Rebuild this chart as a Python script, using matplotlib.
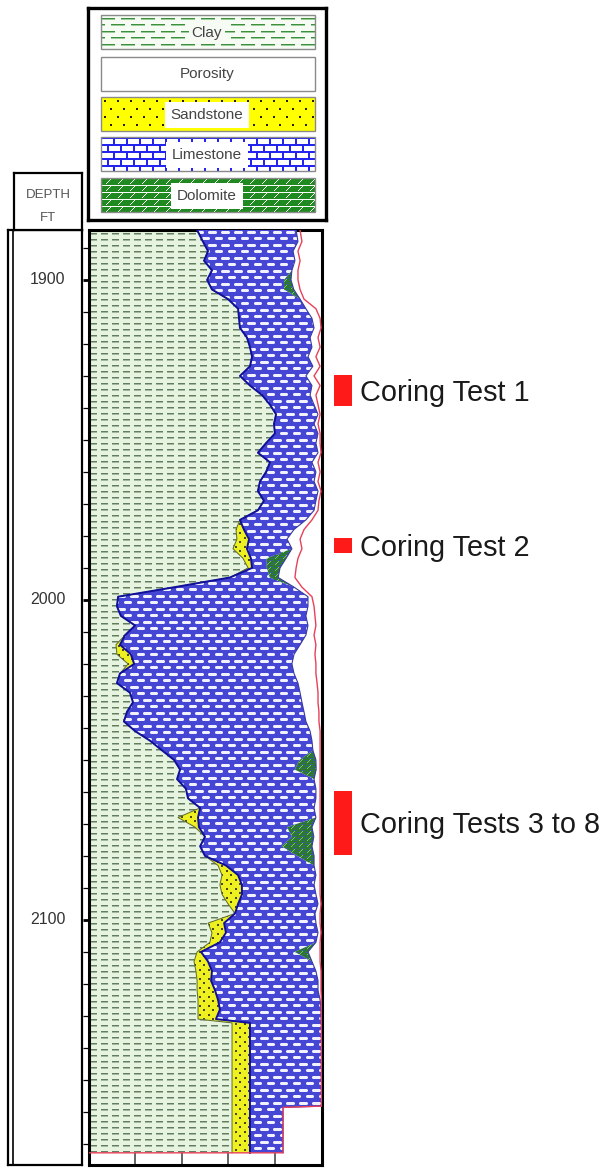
import numpy as np
import matplotlib
matplotlib.use('Agg')
import matplotlib.pyplot as plt
from matplotlib.patches import Polygon, Rectangle

plt.rcParams['font.family'] = ['Liberation Sans', 'DejaVu Sans']

# depth (ft) samples down the log
depth = [1884.4, 1888, 1891, 1894, 1897, 1900, 1903, 1906, 1909, 1912,
         1915, 1918, 1921, 1924, 1927, 1930, 1933, 1936, 1939, 1942,
         1945, 1948, 1951, 1954, 1957, 1960, 1963, 1966, 1969, 1972,
         1975, 1978, 1981, 1984, 1987, 1990, 1993, 1996, 1999, 2002,
         2005, 2008, 2011, 2014, 2017, 2020, 2023, 2026, 2029, 2032,
         2035, 2038, 2041, 2044, 2047, 2050, 2053, 2056, 2059, 2062,
         2065, 2068, 2071, 2074, 2077, 2080, 2083, 2086, 2089, 2092,
         2095, 2098, 2101, 2104, 2107, 2110, 2113, 2116, 2119, 2122,
         2125, 2128, 2131, 2132.2, 2140, 2150, 2158.2, 2158.6, 2166, 2172.8]

# track position in % of the track width
clay_edge = [46.6, 49.1, 51.3, 49.6, 53.0, 50.9, 53.0, 59.9, 64.2, 64.6,
             65.0, 68.0, 69.3, 70.2, 69.3, 65.0, 69.3, 74.5, 77.9, 80.5,
             79.6, 80.0, 76.2, 72.7, 77.9, 76.2, 73.6, 72.7, 75.3, 72.7,
             65.0, 63.3, 63.7, 62.0, 66.3, 68.5, 60.7, 37.1, 12.7, 12.2,
             13.9, 20.0, 15.7, 11.8, 12.2, 17.0, 13.5, 12.2, 17.8, 19.1,
             16.5, 15.2, 20.0, 26.4, 31.5, 36.7, 39.3, 38.0, 41.8, 42.7,
             47.9, 38.4, 45.7, 50.0, 47.9, 50.0, 55.6, 57.3, 56.4, 57.3,
             59.9, 62.9, 51.3, 53.0, 52.1, 46.6, 45.3, 46.1, 46.6, 46.6,
             47.0, 47.0, 47.0, 61.6, 61.6, 61.6, 61.6, 61.6, 61.6, 61.6]

sand_width = [0, 0, 0, 0, 0, 0, 0, 0, 0, 0,
              0, 0, 0, 0, 0, 0, 0, 0, 0, 0,
              0, 0, 0, 0, 0, 0, 0, 0, 0, 0,
              0, 3.4, 5.2, 6.0, 3.4, 1.7, 0, 0, 0, 0,
              0, 0, 0, 1.7, 6.0, 2.6, 0, 0, 0, 0,
              0, 0, 0, 0, 0, 0, 0, 0, 0, 0,
              0, 8.6, 1.7, 0, 0, 0, 3.4, 6.9, 9.4, 8.6,
              4.3, 0, 6.9, 6.0, 4.3, 1.7, 6.0, 6.9, 6.0, 7.7,
              8.6, 9.4, 7.7, 7.7, 7.7, 7.7, 7.7, 7.7, 7.7, 7.7]

lime_edge = [89.1, 89.9, 87.8, 88.6, 87.3, 83.9, 83.9, 90.8, 93.3, 95.9,
             96.8, 95.1, 95.9, 94.2, 96.3, 93.3, 95.9, 95.1, 96.8, 98.5,
             96.8, 98.5, 97.6, 98.5, 95.9, 97.6, 96.8, 98.5, 97.6, 96.8,
             93.3, 88.2, 85.2, 87.3, 76.5, 76.5, 77.8, 88.2, 94.2, 94.2,
             93.3, 94.2, 93.3, 90.8, 88.2, 87.3, 88.2, 89.9, 90.8, 91.6,
             92.5, 93.3, 95.1, 95.9, 96.3, 90.6, 88.5, 96.8, 97.6, 97.6,
             96.8, 97.6, 85.2, 87.3, 82.9, 89.5, 96.8, 97.6, 96.8, 97.6,
             98.5, 97.2, 97.6, 98.5, 97.6, 88.5, 95.9, 97.6, 98.5, 98.5,
             99.4, 99.8, 99.8, 100, 100, 100, 100, 83.5, 83.5, 83.5]

dolo_width = [0, 0, 0, 0, 0, 3.0, 4.2, 0, 0, 0,
              0, 0, 0, 0, 0, 0, 0, 0, 0, 0,
              0, 0, 0, 0, 0, 0, 0, 0, 0, 0,
              0, 0, 0, 0, 8.3, 5.7, 3.6, 0, 0, 0,
              0, 0, 0, 0, 0, 0, 0, 0, 0, 0,
              0, 0, 0, 0, 0, 7.0, 9.2, 0, 0, 0,
              0, 0, 10.7, 9.4, 13.0, 7.3, 0, 0, 0, 0,
              0, 0, 0, 0, 0, 5.7, 0, 0, 0, 0,
              0, 0, 0, 0, 0, 0, 0, 0, 0, 0]

poro_edge = [90.8, 91.6, 89.9, 90.8, 89.9, 89.9, 90.8, 92.5, 97.6, 99.4,
             99.8, 98.5, 99.4, 97.6, 99.4, 96.8, 99.4, 97.6, 98.5, 99.4,
             98.5, 99.4, 99.4, 99.8, 98.5, 99.4, 98.5, 99.8, 98.9, 98.5,
             95.9, 92.5, 90.8, 91.6, 89.9, 89.1, 88.6, 91.6, 95.9, 96.8,
             97.2, 97.6, 96.8, 97.6, 97.2, 97.6, 97.6, 98.1, 98.5, 98.5,
             98.9, 98.9, 99.4, 99.4, 99.4, 99.4, 99.4, 99.4, 99.4, 99.4,
             99.4, 99.4, 99.4, 99.4, 99.4, 99.4, 99.4, 99.4, 99.4, 99.4,
             99.8, 99.4, 99.4, 99.8, 99.4, 99.4, 99.4, 99.8, 99.8, 99.8,
             100, 100, 100, 100, 100, 100, 100, 83.5, 83.5, 83.5]

depth_labels = [1900, 2000, 2100]
legend_names = ['Clay', 'Porosity', 'Sandstone', 'Limestone', 'Dolomite']
core_top = [1929.7, 1980.6, 2059.7]
core_bottom = [1939.4, 1985.3, 2079.7]
core_labels = ['Coring Test 1', 'Coring Test 2', 'Coring Tests 3 to 8']

W, H = 610, 1169
DEPTH_TOP, DEPTH_BOTTOM = 1884.4, 2176.6


def hexrgb(h):
    return [int(h[i:i + 2], 16) for i in (1, 3, 5)]


def make_tile(rows, colors):
    return np.array([[hexrgb(colors[c]) for c in r] for r in rows], dtype=np.uint8)


def texture(tile, h, w):
    reps = (h // tile.shape[0] + 1, w // tile.shape[1] + 1, 1)
    return np.tile(tile, reps)[:h, :w]


def px_axes(fig, x0, y0, x1, y1):
    return fig.add_axes([x0 / W, 1 - y1 / H, (x1 - x0) / W, (y1 - y0) / H])


# patterns used inside the log track
clay_tile = make_tile([
    "...........",
    "...........",
    "...........",
    ".#######...",
    ".+++++++...",
    "...........",
], {'.': '#e6f3df', '#': '#637d60', '+': '#a3b89d'})

lime_tile = make_tile([
    "bbbbbbbbbbbbb",
    "bblwwwwwwwlbb",
    "bbwwwwwwwwwbb",
    "bblwwwwwwwlbb",
    "bbbbbbbbbbbbb",
    "bbbbbbbbbbbbb",
    "bbbbbbbbbbbbb",
    "wwwlbbbbblwww",
    "wwwwbbbbbwwww",
    "wwwlbbbbblwww",
    "bbbbbbbbbbbbb",
    "bbbbbbbbbbbbb",
    "bbbbbbbbbbbbb",
], {'b': '#4646d4', 'w': '#f0f0ff', 'l': '#a0a0ec'})

sand_tile = make_tile([
    "yyyyyyyyy",
    "yykkyyyyy",
    "yykkyyyyy",
    "yyyyyyyyy",
    "yyyyyyyyy",
    "yyyyyykky",
    "yyyyyykky",
    "yyyyyyyyy",
    "yyyyyyyyy",
], {'y': '#eef020', 'k': '#4a4a18'})

dolo_tile = make_tile([
    "ggggbbbb",
    "ggggglgg",
    "bbbglggg",
    "ggglgggg",
    "gglgggbb",
    "gggggggg",
], {'g': '#2a7a2a', 'l': '#7fbf7f', 'b': '#3a5aa0'})

# patterns used in the legend swatches
clay_leg = make_tile([
    "....................",
    "....................",
    "....................",
    "##############......",
    "++++++++++++++......",
    "....................",
    "....................",
    "....................",
    "....................",
    "####......##########",
    "++++......++++++++++",
    "....................",
    "....................",
], {'.': '#f6fbf4', '#': '#3c8f3c', '+': '#9ccc9c'})

sand_leg = make_tile([
    "yyyyyyyyyyyyy",
    "yyyyyyyyyyyyy",
    "yyyyyyyyyyyyy",
    "yyykkyyyyyyyy",
    "yyykkyyyyyyyy",
    "yyyyyyyyyyyyy",
    "yyyyyyyyyyyyy",
    "yyyyyyyyyyyyy",
    "yyyyyyyyyyyyy",
    "yyyyyyyyyyyyy",
    "yyyyyyyyyyyyy",
    "yyyyyyyyykkyy",
    "yyyyyyyyykkyy",
    "yyyyyyyyyyyyy",
    "yyyyyyyyyyyyy",
    "yyyyyyyyyyyyy",
], {'y': '#ffff00', 'k': '#202010'})

lime_leg = make_tile([
    "bbbbbbbbbbbbb",
    "bbbbbbbbbbbbb",
    "bwwwwwwwwwwwb",
    "bwwwwwwwwwwwb",
    "bwwwwwwwwwwwb",
    "bwwwwwwwwwwwb",
    "bwwwwwwwwwwwb",
    "bbbbbbbbbbbbb",
    "bbbbbbbbbbbbb",
    "wwwwwwbbwwwww",
    "wwwwwwbbwwwww",
    "wwwwwwbbwwwww",
    "wwwwwwbbwwwww",
    "wwwwwwbbwwwww",
], {'b': '#2424f0', 'w': '#ffffff'})

dolo_leg = make_tile([
    "wwwwwwwwwwww",
    "gggggggggwgg",
    "ggggggggwggg",
    "gggggggwgggg",
    "ggggggwggggg",
    "gggggwgggggg",
    "gggggggggggg",
], {'g': '#1f8a1f', 'w': '#ffffff'})

fig = plt.figure(figsize=(W / 100, H / 100), dpi=100)
fig.patch.set_facecolor('white')

# ---- main log track
ax = px_axes(fig, 88.5, 230, 321.5, 1165)
d = np.array(depth)
clay = np.array(clay_edge)
sand = clay + np.array(sand_width)
lime = np.array(lime_edge)
dolo = lime + np.array(dolo_width)
poro = np.array(poro_edge)

for gx in [20, 40, 60, 80]:
    ax.axvline(gx, color='#3a3a3a', lw=1.1, zorder=0.5)

ext = (0, 100, DEPTH_BOTTOM, DEPTH_TOP)
hpx, wpx = 935, 233


def textured_band(left, right, tile, z):
    verts = np.concatenate([np.column_stack([left, d]),
                            np.column_stack([right, d])[::-1]])
    patch = Polygon(verts, closed=True, fc='none', ec='none', transform=ax.transData)
    ax.add_patch(patch)
    im = ax.imshow(texture(tile, hpx, wpx), extent=ext, aspect='auto',
                   interpolation='nearest', zorder=z)
    im.set_clip_path(patch)


textured_band(np.zeros_like(clay), clay, clay_tile, 1)
textured_band(clay, sand, sand_tile, 2)
textured_band(sand, lime, lime_tile, 3)
textured_band(lime, dolo, dolo_tile, 4)

ax.plot(clay, d, color='#5a6a30', lw=0.7, zorder=5)
ax.plot(sand, d, color='#10109a', lw=1.4, zorder=5)
ax.plot(dolo, d, color='#3a3aa0', lw=0.8, zorder=5)
ax.plot(np.append(poro, 0), np.append(d, d[-1]), color='#e8405a', lw=1.0, zorder=6)

ax.set_xlim(0, 100)
ax.set_ylim(DEPTH_BOTTOM, DEPTH_TOP)
ax.set_xticks([])
ax.set_yticks(depth_labels)
ax.set_yticks([t for t in range(1890, 2180, 10) if t not in depth_labels], minor=True)
ax.tick_params(axis='y', which='major', direction='out', length=4.5, width=2.0, labelleft=False)
ax.tick_params(axis='y', which='minor', direction='out', length=4.5, width=0.9)
for s in ax.spines.values():
    s.set_linewidth(2.2)

# ---- depth track
dax = px_axes(fig, 8, 230, 82, 1165)
dax.set_ylim(DEPTH_BOTTOM, DEPTH_TOP)
dax.set_xlim(0, 1)
dax.set_xticks([])
dax.set_yticks([])
for s in dax.spines.values():
    s.set_linewidth(1.6)
dax.axvline(5 / 74, color='black', lw=1.2)
for dl in depth_labels:
    dax.text(0.54, dl, str(dl), transform=dax.get_yaxis_transform(),
             ha='center', va='center', fontsize=11.5, color='#333333')

hax = px_axes(fig, 14, 173, 82, 230)
hax.set_xticks([])
hax.set_yticks([])
for s in hax.spines.values():
    s.set_linewidth(1.6)
hax.text(0.5, 0.61, 'DEPTH', ha='center', va='center', fontsize=9.5, color='#555555')
hax.text(0.5, 0.21, 'FT', ha='center', va='center', fontsize=9.5, color='#555555')

# ---- legend box
lax = px_axes(fig, 88, 8, 326, 220)
swatch_tiles = [clay_leg, None, sand_leg, lime_leg, dolo_leg]
swatch_tops = [7, 48.7, 89.3, 129.3, 170.3]
for name, tile, top in zip(legend_names, swatch_tiles, swatch_tops):
    if tile is not None:
        lax.imshow(texture(tile, 34, 214), extent=(13, 227, top + 34, top),
                   aspect='auto', interpolation='nearest')
    lax.add_patch(Rectangle((13, top), 214, 34, fc='none', ec='#8a8a8a', lw=1.0))
    box = None
    if name == 'Clay':
        box = dict(boxstyle='square,pad=0.15', fc='#f6fbf4', ec='none')
    elif name != 'Porosity':
        box = dict(boxstyle='square,pad=0.4', fc='white', ec='none')
    lax.text(119, top + 17.5, name, ha='center', va='center', fontsize=11,
             color='#444444', bbox=box)
lax.set_xlim(0, 238)
lax.set_ylim(212, 0)
lax.set_xticks([])
lax.set_yticks([])
for s in lax.spines.values():
    s.set_linewidth(2.4)

# ---- coring annotations
nax = px_axes(fig, 322, 230, 610, 1165)
nax.set_xlim(0, 288)
nax.set_ylim(DEPTH_BOTTOM, DEPTH_TOP)
nax.axis('off')
for top, bot, lab in zip(core_top, core_bottom, core_labels):
    nax.add_patch(Rectangle((12, top), 18, bot - top, fc='#ff1a1a', ec='none'))
    nax.text(38, (top + bot) / 2 + 3.3, lab, ha='left', va='baseline',
             fontsize=20.8, color='#1a1a1a')

fig.savefig('out.png', dpi=100)
